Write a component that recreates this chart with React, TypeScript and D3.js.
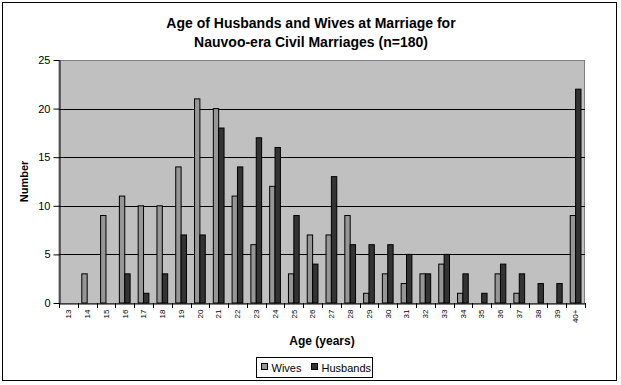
import React, { useRef, useEffect } from 'react';
import * as d3 from 'd3';

const ages = ['13', '14', '15', '16', '17', '18', '19', '20', '21', '22', '23', '24', '25', '26', '27', '28', '29', '30', '31', '32', '33', '34', '35', '36', '37', '38', '39', '40+'];
const wives = [0, 3, 9, 11, 10, 10, 14, 21, 20, 11, 6, 12, 3, 7, 7, 9, 1, 3, 2, 3, 4, 1, 0, 3, 1, 0, 0, 9];
const husbands = [0, 0, 0, 3, 1, 3, 7, 7, 18, 14, 17, 16, 9, 4, 13, 6, 6, 6, 5, 3, 5, 3, 1, 4, 3, 2, 2, 22];
const yTicks = [0, 5, 10, 15, 20, 25];
const seriesNames = ['Wives', 'Husbands'];
const seriesColors = ['#969696', '#333333'];

const App = () => {
  const svgRef = useRef(null);

  useEffect(() => {
    const width = 621;
    const height = 385;
    const margin = { top: 60, left: 59, right: 36, bottom: 82 };
    const chartWidth = width - margin.left - margin.right;
    const chartHeight = height - margin.top - margin.bottom;
    const font = 'Arial, "Liberation Sans", sans-serif';

    const root = d3.select(svgRef.current);
    root.selectAll('*').remove();

    // white background + outer frame
    root.append('rect')
      .attr('x', 0).attr('y', 0)
      .attr('width', width).attr('height', height)
      .attr('fill', '#fff');
    root.append('rect')
      .attr('x', 2.5).attr('y', 2.5)
      .attr('width', 614).attr('height', 378)
      .attr('fill', 'none').attr('stroke', '#000').attr('stroke-width', 1);

    // title
    const title = root.append('text')
      .attr('text-anchor', 'middle')
      .attr('font-family', font)
      .attr('font-size', 14)
      .attr('font-weight', 'bold');
    title.append('tspan').attr('x', 311).attr('y', 28).text('Age of Husbands and Wives at Marriage for');
    title.append('tspan').attr('x', 311).attr('y', 47).text('Nauvoo-era Civil Marriages (n=180)');

    const svg = root.append('g')
      .attr('transform', `translate(${margin.left}, ${margin.top})`);

    const x = d3.scaleBand()
      .domain(ages)
      .range([0, chartWidth]);

    const xs = d3.scaleBand()
      .domain(seriesNames)
      .range([0, x.bandwidth()])
      .paddingInner(0)
      .paddingOuter(0.75);

    const y = d3.scaleLinear()
      .domain([0, 25])
      .range([chartHeight, 0]);

    // plot area
    svg.append('rect')
      .attr('x', 0).attr('y', 0.5)
      .attr('width', chartWidth - 0.5).attr('height', chartHeight)
      .attr('fill', '#c0c0c0')
      .attr('stroke', '#808080');

    // gridlines
    svg.append('g')
      .selectAll('line')
      .data(yTicks.filter(d => d > 0 && d < 25))
      .enter()
      .append('line')
      .attr('x1', 0).attr('x2', chartWidth)
      .attr('y1', d => Math.round(y(d)) + 0.5)
      .attr('y2', d => Math.round(y(d)) + 0.5)
      .attr('stroke', '#000');

    // bars
    const rows = ages.map((a, i) => ({ age: a, values: [wives[i], husbands[i]] }));
    const groups = svg.selectAll('.grp')
      .data(rows)
      .enter()
      .append('g')
      .attr('transform', d => `translate(${x(d.age)}, 0)`);

    groups.selectAll('rect')
      .data(d => d.values.map((v, k) => ({ v, k })).filter(e => e.v > 0))
      .enter()
      .append('rect')
      .attr('x', d => xs(seriesNames[d.k]))
      .attr('y', d => y(d.v))
      .attr('width', xs.bandwidth())
      .attr('height', d => chartHeight - y(d.v))
      .attr('fill', d => seriesColors[d.k])
      .attr('stroke', '#000')
      .attr('stroke-width', 1);

    // y axis
    const yAxis = svg.append('g')
      .attr('transform', 'translate(0.5, 0)')
      .call(d3.axisLeft(y).tickValues(yTicks).tickSize(6).tickSizeOuter(0));
    yAxis.selectAll('text')
      .attr('font-family', font)
      .attr('font-size', 11)
      .attr('fill', '#000')
      .attr('x', -9);
    yAxis.selectAll('line, path').attr('stroke', '#000');

    // x axis
    const xAxis = svg.append('g')
      .attr('transform', `translate(0, ${chartHeight + 0.5})`)
      .call(d3.axisBottom(x).tickSize(0).tickSizeOuter(0));
    xAxis.select('.domain').attr('stroke', '#000');
    xAxis.selectAll('.tick text')
      .attr('font-family', font)
      .attr('font-size', 8)
      .attr('fill', '#000')
      .attr('transform', 'rotate(-90)')
      .attr('text-anchor', 'end')
      .attr('x', -6)
      .attr('y', 0)
      .attr('dy', '0.35em');

    // tick marks between categories
    svg.append('g')
      .selectAll('line')
      .data(d3.range(ages.length + 1))
      .enter()
      .append('line')
      .attr('x1', i => Math.round(i * x.bandwidth()) + 0.5)
      .attr('x2', i => Math.round(i * x.bandwidth()) + 0.5)
      .attr('y1', chartHeight)
      .attr('y2', chartHeight + 5)
      .attr('stroke', '#000');

    // axis titles
    root.append('text')
      .attr('x', margin.left + chartWidth / 2)
      .attr('y', 345)
      .attr('text-anchor', 'middle')
      .attr('font-family', font)
      .attr('font-size', 12)
      .attr('font-weight', 'bold')
      .text('Age (years)');

    root.append('text')
      .attr('transform', `translate(28, ${margin.top + chartHeight / 2}) rotate(-90)`)
      .attr('text-anchor', 'middle')
      .attr('font-family', font)
      .attr('font-size', 11)
      .attr('font-weight', 'bold')
      .text('Number');

    // legend
    const legend = root.append('g').attr('transform', 'translate(256.5, 357.5)');
    legend.append('rect')
      .attr('width', 116).attr('height', 20)
      .attr('fill', '#fff').attr('stroke', '#000');
    const items = [{ name: seriesNames[0], x: 5 }, { name: seriesNames[1], x: 55 }];
    items.forEach((it, i) => {
      legend.append('rect')
        .attr('x', it.x).attr('y', 6)
        .attr('width', 6).attr('height', 6)
        .attr('fill', seriesColors[i]).attr('stroke', '#000');
      legend.append('text')
        .attr('x', it.x + 10).attr('y', 14)
        .attr('font-family', font)
        .attr('font-size', 11)
        .text(it.name);
    });
  }, []);

  return (
    <svg
      ref={svgRef}
      width={621}
      height={385}
      style={{ position: 'absolute', left: 0, top: 0, display: 'block' }}
    ></svg>
  );
};

export default App;
